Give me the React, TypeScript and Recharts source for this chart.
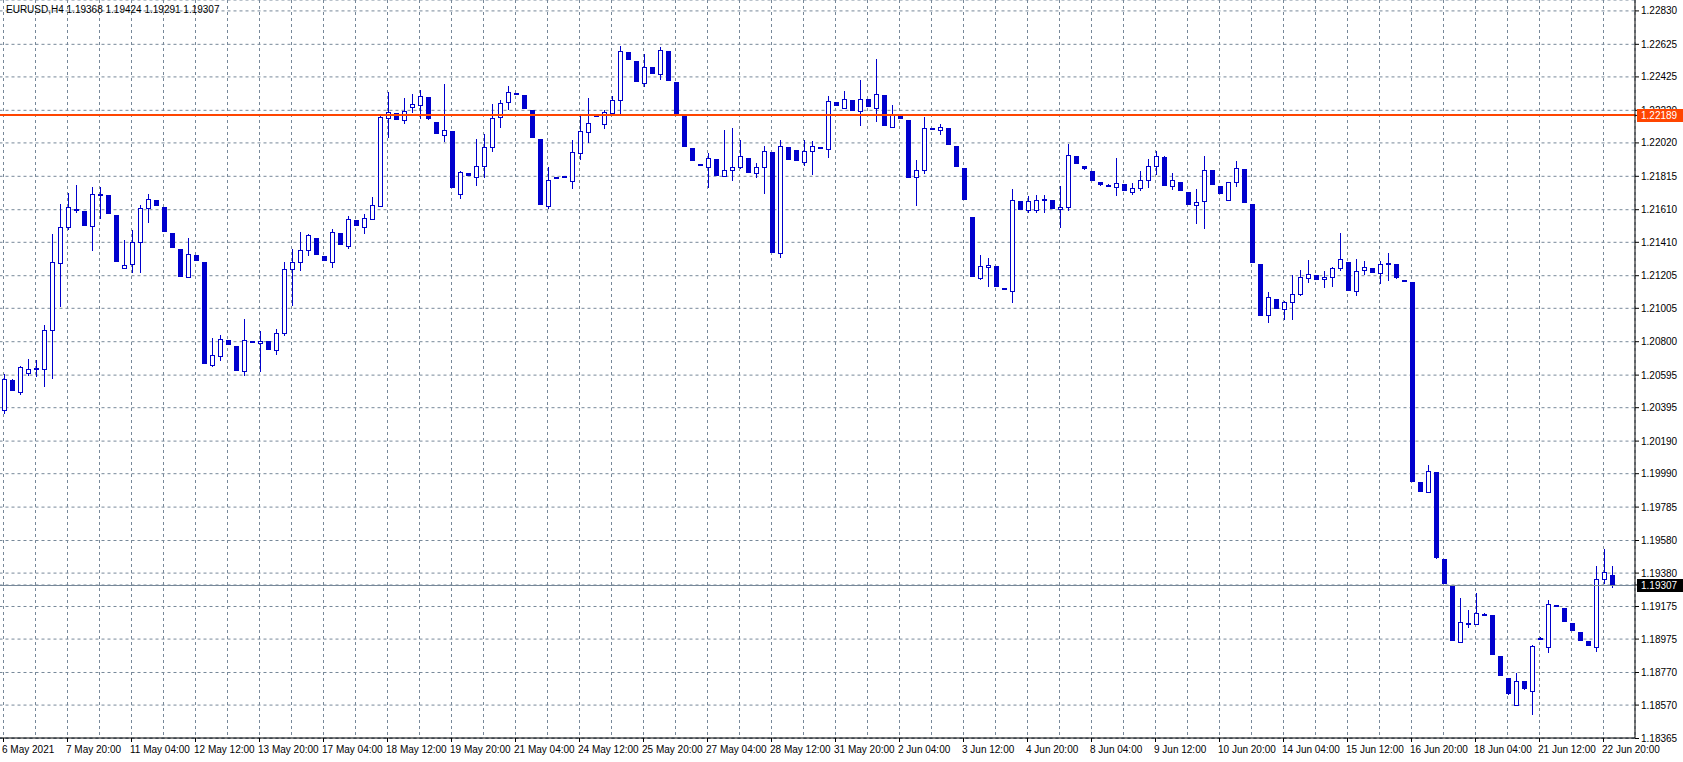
import React from "react";
import { ComposedChart, Bar, XAxis, YAxis, CartesianGrid, ReferenceLine } from "recharts";

const FONT = "'Liberation Sans', Arial, sans-serif";
const CANDLE = "#0000CD";
const GRID = "#778899";

const symbolTitle = "EURUSD,H4";
const headerValues = [1.19368, 1.19424, 1.19291, 1.19307];

const opens = [
  1.20381, 1.20565, 1.20489, 1.20606, 1.20639, 1.20631, 1.20870, 1.21281, 1.21502, 1.21614,
  1.21602, 1.21508, 1.21703, 1.21700, 1.21578, 1.21254, 1.21277, 1.21410, 1.21619, 1.21670,
  1.21625, 1.21467, 1.21369, 1.21195, 1.21332, 1.21289, 1.20655, 1.20710, 1.20809, 1.20774,
  1.20618, 1.20804, 1.20790, 1.20804, 1.20747, 1.20852, 1.21244, 1.21287, 1.21361, 1.21436,
  1.21326, 1.21287, 1.21467, 1.21389, 1.21545, 1.21502, 1.21555, 1.21635, 1.22171, 1.22202,
  1.22159, 1.22242, 1.22254, 1.22300, 1.22148, 1.22067, 1.22093, 1.21705, 1.21835, 1.21809,
  1.21876, 1.21993, 1.22177, 1.22269, 1.22326, 1.22314, 1.22222, 1.22044, 1.21635, 1.21805,
  1.21814, 1.21788, 1.21960, 1.22089, 1.22185, 1.22138, 1.22205, 1.22285, 1.22578, 1.22523,
  1.22386, 1.22486, 1.22445, 1.22584, 1.22394, 1.22191, 1.21989, 1.21891, 1.21874, 1.21921,
  1.21819, 1.21852, 1.21870, 1.21927, 1.21833, 1.21870, 1.21962, 1.21342, 1.21995, 1.21976,
  1.21905, 1.21972, 1.21995, 1.21981, 1.22271, 1.22232, 1.22283, 1.22214, 1.22289, 1.22236,
  1.22314, 1.22119, 1.22191, 1.22161, 1.21809, 1.21852, 1.22111, 1.22101, 1.22111, 1.22001,
  1.21866, 1.21565, 1.21193, 1.21260, 1.21265, 1.21130, 1.21113, 1.21662, 1.21606, 1.21610,
  1.21676, 1.21670, 1.21613, 1.21625, 1.21940, 1.21878, 1.21848, 1.21780, 1.21762, 1.21751,
  1.21768, 1.21717, 1.21741, 1.21790, 1.21878, 1.21935, 1.21754, 1.21780, 1.21719, 1.21637,
  1.21662, 1.21854, 1.21756, 1.21671, 1.21778, 1.21860, 1.21645, 1.21277, 1.20962, 1.21062,
  1.21001, 1.21044, 1.21090, 1.21189, 1.21209, 1.21183, 1.21195, 1.21252, 1.21287, 1.21109,
  1.21238, 1.21252, 1.21220, 1.21283, 1.21277, 1.21176, 1.21165, 1.19937, 1.19879, 1.19998,
  1.19466, 1.19305, 1.18955, 1.19071, 1.19070, 1.19128, 1.19123, 1.18871, 1.18734, 1.18571,
  1.18716, 1.18654, 1.18980, 1.18925, 1.19182, 1.19166, 1.19072, 1.19018, 1.18961, 1.18928,
  1.19342, 1.19368,
];

const highs = [
  1.20602, 1.20571, 1.20651, 1.20694, 1.20688, 1.20902, 1.21461, 1.21645, 1.21711, 1.21762,
  1.21605, 1.21749, 1.21749, 1.21703, 1.21580, 1.21424, 1.21486, 1.21639, 1.21706, 1.21672,
  1.21627, 1.21469, 1.21371, 1.21436, 1.21334, 1.21291, 1.20821, 1.20841, 1.20811, 1.20776,
  1.20939, 1.20806, 1.20866, 1.20806, 1.20878, 1.21289, 1.21367, 1.21473, 1.21461, 1.21438,
  1.21328, 1.21490, 1.21469, 1.21571, 1.21547, 1.21584, 1.21688, 1.22191, 1.22332, 1.22204,
  1.22294, 1.22320, 1.22345, 1.22302, 1.22150, 1.22381, 1.22095, 1.21848, 1.21837, 1.22044,
  1.22075, 1.22259, 1.22283, 1.22369, 1.22328, 1.22316, 1.22224, 1.22046, 1.21874, 1.21810,
  1.21818, 1.22038, 1.22191, 1.22296, 1.22200, 1.22222, 1.22308, 1.22615, 1.22580, 1.22525,
  1.22566, 1.22488, 1.22607, 1.22586, 1.22396, 1.22193, 1.21991, 1.21893, 1.21956, 1.21923,
  1.22099, 1.22111, 1.22038, 1.21929, 1.21899, 1.22001, 1.21964, 1.22038, 1.21997, 1.21978,
  1.22038, 1.22032, 1.21997, 1.22308, 1.22273, 1.22339, 1.22285, 1.22406, 1.22291, 1.22535,
  1.22316, 1.22253, 1.22193, 1.22163, 1.21915, 1.22179, 1.22113, 1.22136, 1.22113, 1.22003,
  1.21868, 1.21567, 1.21332, 1.21312, 1.21267, 1.21132, 1.21737, 1.21664, 1.21694, 1.21700,
  1.21700, 1.21672, 1.21756, 1.22013, 1.21942, 1.21880, 1.21850, 1.21782, 1.21766, 1.21927,
  1.21770, 1.21774, 1.21848, 1.21921, 1.21970, 1.21937, 1.21837, 1.21782, 1.21721, 1.21737,
  1.21940, 1.21856, 1.21758, 1.21780, 1.21907, 1.21862, 1.21647, 1.21279, 1.21105, 1.21064,
  1.21048, 1.21211, 1.21240, 1.21301, 1.21211, 1.21234, 1.21260, 1.21467, 1.21289, 1.21308,
  1.21295, 1.21254, 1.21295, 1.21344, 1.21279, 1.21178, 1.21167, 1.19939, 1.20043, 1.20000,
  1.19468, 1.19307, 1.19229, 1.19154, 1.19256, 1.19135, 1.19125, 1.18873, 1.18736, 1.18765,
  1.18718, 1.18939, 1.18985, 1.19215, 1.19184, 1.19168, 1.19074, 1.19020, 1.18963, 1.19423,
  1.19526, 1.19424,
];

const lows = [
  1.20356, 1.20497, 1.20473, 1.20591, 1.20585, 1.20524, 1.20573, 1.21015, 1.21486, 1.21592,
  1.21510, 1.21358, 1.21553, 1.21583, 1.21289, 1.21250, 1.21223, 1.21223, 1.21530, 1.21633,
  1.21473, 1.21375, 1.21197, 1.21193, 1.21295, 1.20663, 1.20647, 1.20684, 1.20780, 1.20620,
  1.20591, 1.20792, 1.20616, 1.20747, 1.20720, 1.20837, 1.21021, 1.21236, 1.21328, 1.21332,
  1.21295, 1.21254, 1.21393, 1.21371, 1.21510, 1.21463, 1.21549, 1.21628, 1.22052, 1.22160,
  1.22138, 1.22202, 1.22165, 1.22163, 1.22074, 1.22027, 1.21743, 1.21678, 1.21817, 1.21757,
  1.21805, 1.21966, 1.22113, 1.22220, 1.22321, 1.22228, 1.22050, 1.21639, 1.21614, 1.21803,
  1.21810, 1.21739, 1.21915, 1.22018, 1.22180, 1.22107, 1.22202, 1.22191, 1.22527, 1.22392,
  1.22365, 1.22441, 1.22406, 1.22398, 1.22189, 1.21995, 1.21907, 1.21876, 1.21745, 1.21815,
  1.21813, 1.21788, 1.21862, 1.21833, 1.21806, 1.21706, 1.21344, 1.21314, 1.21915, 1.21907,
  1.21878, 1.21823, 1.21982, 1.21927, 1.22244, 1.22232, 1.22216, 1.22124, 1.22240, 1.22150,
  1.22122, 1.22113, 1.22167, 1.21804, 1.21635, 1.21829, 1.22099, 1.22069, 1.22007, 1.21872,
  1.21669, 1.21197, 1.21179, 1.21138, 1.21136, 1.21117, 1.21036, 1.21608, 1.21592, 1.21592,
  1.21592, 1.21614, 1.21499, 1.21604, 1.21890, 1.21856, 1.21786, 1.21758, 1.21756, 1.21694,
  1.21723, 1.21702, 1.21725, 1.21745, 1.21823, 1.21755, 1.21733, 1.21725, 1.21639, 1.21524,
  1.21493, 1.21761, 1.21706, 1.21669, 1.21751, 1.21651, 1.21283, 1.20958, 1.20917, 1.21001,
  1.20933, 1.20933, 1.21082, 1.21162, 1.21178, 1.21131, 1.21138, 1.21236, 1.21111, 1.21082,
  1.21211, 1.21221, 1.21156, 1.21174, 1.21187, 1.21172, 1.19939, 1.19877, 1.19873, 1.19469,
  1.19311, 1.18963, 1.18949, 1.19041, 1.19061, 1.19120, 1.18875, 1.18746, 1.18634, 1.18564,
  1.18665, 1.18509, 1.18978, 1.18891, 1.19172, 1.19080, 1.19024, 1.18963, 1.18931, 1.18897,
  1.19313, 1.19291,
];

const closes = [
  1.20571, 1.20499, 1.20643, 1.20631, 1.20626, 1.20870, 1.21287, 1.21502, 1.21625, 1.21602,
  1.21512, 1.21705, 1.21709, 1.21585, 1.21291, 1.21269, 1.21410, 1.21619, 1.21674, 1.21635,
  1.21475, 1.21377, 1.21199, 1.21336, 1.21297, 1.20665, 1.20717, 1.20815, 1.20782, 1.20622,
  1.20809, 1.20794, 1.20804, 1.20749, 1.20853, 1.21244, 1.21287, 1.21361, 1.21453, 1.21334,
  1.21297, 1.21471, 1.21395, 1.21551, 1.21512, 1.21557, 1.21637, 1.22177, 1.22208, 1.22162,
  1.22214, 1.22259, 1.22306, 1.22165, 1.22076, 1.22099, 1.21745, 1.21840, 1.21819, 1.21876,
  1.21993, 1.22171, 1.22263, 1.22331, 1.22323, 1.22230, 1.22052, 1.21641, 1.21791, 1.21808,
  1.21815, 1.21962, 1.22093, 1.22140, 1.22192, 1.22208, 1.22281, 1.22582, 1.22529, 1.22394,
  1.22484, 1.22443, 1.22590, 1.22400, 1.22191, 1.21997, 1.21909, 1.21878, 1.21926, 1.21817,
  1.21852, 1.21872, 1.21938, 1.21835, 1.21870, 1.21968, 1.21346, 1.21999, 1.21917, 1.21909,
  1.21968, 1.22001, 1.21984, 1.22275, 1.22246, 1.22288, 1.22218, 1.22288, 1.22242, 1.22320,
  1.22124, 1.22196, 1.22169, 1.21806, 1.21852, 1.22109, 1.22101, 1.22116, 1.22009, 1.21874,
  1.21671, 1.21199, 1.21265, 1.21271, 1.21138, 1.21119, 1.21668, 1.21610, 1.21662, 1.21668,
  1.21665, 1.21616, 1.21625, 1.21944, 1.21892, 1.21858, 1.21788, 1.21760, 1.21760, 1.21776,
  1.21725, 1.21741, 1.21792, 1.21878, 1.21938, 1.21757, 1.21790, 1.21727, 1.21641, 1.21655,
  1.21852, 1.21763, 1.21708, 1.21778, 1.21864, 1.21653, 1.21285, 1.20960, 1.21072, 1.21003,
  1.21044, 1.21093, 1.21196, 1.21214, 1.21180, 1.21195, 1.21254, 1.21308, 1.21113, 1.21232,
  1.21257, 1.21223, 1.21277, 1.21273, 1.21189, 1.21174, 1.19941, 1.19879, 1.20005, 1.19471,
  1.19313, 1.18965, 1.19078, 1.19074, 1.19133, 1.19125, 1.18877, 1.18748, 1.18636, 1.18720,
  1.18667, 1.18933, 1.18982, 1.19188, 1.19174, 1.19082, 1.19026, 1.18965, 1.18933, 1.19342,
  1.19387, 1.19307,
];

// one label every 8 bars
const timeLabels = [
  "6 May 2021", "7 May 20:00", "11 May 04:00", "12 May 12:00", "13 May 20:00", "17 May 04:00",
  "18 May 12:00", "19 May 20:00", "21 May 04:00", "24 May 12:00", "25 May 20:00", "27 May 04:00",
  "28 May 12:00", "31 May 20:00", "2 Jun 04:00", "3 Jun 12:00", "4 Jun 20:00", "8 Jun 04:00",
  "9 Jun 12:00", "10 Jun 20:00", "14 Jun 04:00", "15 Jun 12:00", "16 Jun 20:00", "18 Jun 04:00",
  "21 Jun 12:00", "22 Jun 20:00",
];
const labelStep = 8;
const gridStep = 4;

const priceTicks = [
  1.18365, 1.18570, 1.18770, 1.18975, 1.19175, 1.19380, 1.19580, 1.19785, 1.19990, 1.20190,
  1.20395, 1.20595, 1.20800, 1.21005, 1.21205, 1.21410, 1.21610, 1.21815, 1.22020, 1.22220,
  1.22425, 1.22625, 1.22830,
];
const priceDomain = [1.18368, 1.22897];
const levelPrice = 1.22189;
const lastPrice = 1.19307;
const markerColors: Record<string, string> = {
  [levelPrice.toFixed(5)]: "#FF4500",
  [lastPrice.toFixed(5)]: "#000000",
};
// price-scale tags are listed last so they are painted over the regular labels
const axisTicks = [...priceTicks, lastPrice, levelPrice];

const data = opens.map((o, i) => ({
  i,
  o,
  h: highs[i],
  l: lows[i],
  c: closes[i],
  range: [lows[i], highs[i]],
}));

const gridTicks: number[] = [];
for (let k = 0; k < data.length; k += gridStep) gridTicks.push(k);

function Candle(props: any) {
  const { x, y, width, height, payload } = props;
  if (!payload || x == null || y == null) return null;
  const { o, h, l, c } = payload;
  const top = height >= 0 ? y : y + height;
  const span = Math.abs(height || 0);
  const rng = h - l;
  const py = (v: number) => (rng > 0 ? top + ((h - v) / rng) * span : top);
  const cx = Math.floor(x + width / 2) + 0.5;
  const yH = Math.round(py(h));
  const yL = Math.round(py(l));
  const yO = Math.round(py(o));
  const yC = Math.round(py(c));
  const bull = c >= o;
  const bTop = Math.min(yO, yC);
  const bBot = Math.max(yO, yC);
  return (
    <g>
      <line x1={cx} x2={cx} y1={yH} y2={Math.max(yL, yH + 1)} stroke={CANDLE} strokeWidth={1} />
      {bull ? (
        <rect x={cx - 2} y={bTop + 0.5} width={4} height={Math.max(bBot - bTop, 1)} fill="#fff" stroke={CANDLE} strokeWidth={1} />
      ) : (
        <rect x={cx - 2.5} y={bTop} width={5} height={Math.max(bBot - bTop, 2)} fill={CANDLE} />
      )}
    </g>
  );
}

function TimeTick(props: any) {
  const { x, y, payload } = props;
  const idx = Number(payload.value);
  if (idx % labelStep !== 0) return null;
  const label = timeLabels[idx / labelStep];
  const lx = Math.floor(x) + 0.5;
  return (
    <g>
      <line x1={lx} x2={lx} y1={y} y2={y + 4} stroke="#000" />
      <text x={lx - 1.5} y={y + 15} fontSize={10} fontFamily={FONT} fill="#000" textAnchor="start">
        {label}
      </text>
    </g>
  );
}

function PriceTick(props: any) {
  const { x, y, payload } = props;
  const label = Number(payload.value).toFixed(5);
  const tag = markerColors[label];
  if (tag) {
    const yy = Math.round(y);
    return (
      <g>
        <rect x={x - 4} y={yy - 6} width={46} height={13} fill={tag} />
        <text x={x} y={yy + 4} fontSize={10} fontFamily={FONT} fill="#fff" textAnchor="start">
          {label}
        </text>
      </g>
    );
  }
  return (
    <text x={x} y={y} dy={3.5} fontSize={10} fontFamily={FONT} fill="#000" textAnchor="start">
      {label}
    </text>
  );
}

function makeLineShape(color: string, width: number) {
  return (props: any) => {
    const { x1, x2, y1 } = props;
    if (x1 == null || y1 == null) return null;
    const yy = Math.round(y1) + (width % 2 ? 0.5 : 0);
    return <line x1={Math.min(x1, x2)} x2={Math.max(x1, x2)} y1={yy} y2={yy} stroke={color} strokeWidth={width} />;
  };
}

const LevelShape = makeLineShape("#FF4500", 2);
const BidShape = makeLineShape(GRID, 1);

export default function App() {
  return (
    <div style={{ position: "relative", width: 1683, height: 762, background: "#fff", overflow: "hidden" }}>
      <style>{"html,body{margin:0;padding:0;background:#fff}"}</style>
      <ComposedChart
        width={1683}
        height={762}
        data={data}
        margin={{ top: 0, right: 0, bottom: 0, left: -0.5 }}
      >
        <CartesianGrid stroke={GRID} strokeDasharray="3 3" />
        <XAxis
          dataKey="i"
          type="category"
          ticks={gridTicks}
          interval={0}
          tick={TimeTick}
          tickLine={false}
          tickSize={0}
          tickMargin={0}
          axisLine={{ stroke: "#000" }}
          height={24}
          padding={{ left: 0, right: 19.5 }}
        />
        <YAxis
          orientation="right"
          type="number"
          domain={priceDomain}
          allowDataOverflow
          ticks={axisTicks}
          interval={0}
          width={48}
          tickSize={4}
          tickMargin={2}
          tick={PriceTick}
          tickLine={{ stroke: "#000" }}
          axisLine={{ stroke: "#000" }}
        />
        <ReferenceLine y={levelPrice} shape={LevelShape} ifOverflow="visible" />
        <ReferenceLine y={lastPrice} shape={BidShape} ifOverflow="visible" />
        <Bar dataKey="range" barSize={5} shape={Candle} isAnimationActive={false} />
      </ComposedChart>
      <div
        style={{
          position: "absolute",
          left: 6,
          top: 4,
          fontFamily: FONT,
          fontSize: 10,
          lineHeight: "12px",
          color: "#000",
          whiteSpace: "pre",
        }}
      >
        {symbolTitle + " " + headerValues.map((v) => v.toFixed(5)).join(" ")}
      </div>
    </div>
  );
}
